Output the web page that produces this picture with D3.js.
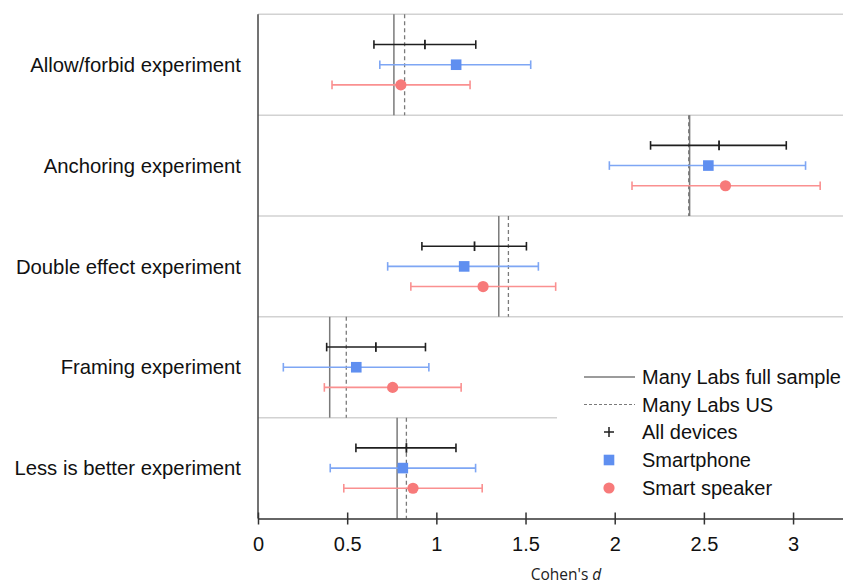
<!DOCTYPE html>
<html>
<head>
<meta charset="utf-8">
<script src="https://cdnjs.cloudflare.com/ajax/libs/d3/7.8.5/d3.min.js"></script>
<style>
  body { margin: 0; background: #fff; }
  text { font-family: "Liberation Sans", Arial, Helvetica, sans-serif; }
</style>
</head>
<body>
<div id="chart"></div>
<script>
// Experiments (rows, top to bottom)
var categories = ["Allow/forbid experiment", "Anchoring experiment", "Double effect experiment",
    "Framing experiment", "Less is better experiment"];

// Many Labs reference effect sizes
var fullSample = [0.762, 2.42, 1.350, 0.402, 0.780];
var usSample = [0.822, 2.415, 1.404, 0.495, 0.832];

// Estimates and confidence intervals per device group
var allEst = [0.936, 2.585, 1.214, 0.661, 0.832];
var allLow = [0.650, 2.201, 0.919, 0.385, 0.549];
var allHigh = [1.221, 2.962, 1.505, 0.939, 1.110];

var phoneEst = [1.111, 2.525, 1.156, 0.551, 0.812];
var phoneLow = [0.683, 1.970, 0.727, 0.142, 0.405];
var phoneHigh = [1.529, 3.070, 1.572, 0.958, 1.220];

var speakerEst = [0.801, 2.621, 1.262, 0.755, 0.869];
var speakerLow = [0.415, 2.097, 0.857, 0.372, 0.481];
var speakerHigh = [1.189, 3.152, 1.669, 1.139, 1.257];

var xTicks = [0, 0.5, 1, 1.5, 2, 2.5, 3];

// Chart area size
var svgWidth = 843;
var svgHeight = 585;
var plotLeft = 258, plotRight = 843, plotTop = 14.3, plotBottom = 518.5;

var svg = d3.select("#chart")
    .append("svg")
    .attr("width", svgWidth)
    .attr("height", svgHeight);

// Scales
var xScale = d3.scaleLinear()
    .domain([0, 3.28])
    .range([plotLeft, plotRight]);

var yBand = d3.scaleBand()
    .domain(categories)
    .range([plotTop, plotBottom]);

var bw = yBand.bandwidth();

// Series definitions (offset inside each row)
var series = [
    { name: "All devices", est: allEst, low: allLow, high: allHigh, offset: 0.30, bar: "#1f1f1f", mark: "#1f1f1f", shape: "plus" },
    { name: "Smartphone", est: phoneEst, low: phoneLow, high: phoneHigh, offset: 0.50, bar: "#7ea6f4", mark: "#5f8ff0", shape: "square" },
    { name: "Smart speaker", est: speakerEst, low: speakerLow, high: speakerHigh, offset: 0.70, bar: "#fa9090", mark: "#f77a7a", shape: "circle" }
];

// Row separators
svg.selectAll(".sep")
    .data(d3.range(categories.length))
    .enter()
    .append("line")
    .attr("x1", plotLeft)
    .attr("x2", plotRight)
    .attr("y1", i => yBand(categories[i]))
    .attr("y2", i => yBand(categories[i]))
    .attr("stroke", "#d2d2d2")
    .attr("stroke-width", 1.5);

// Reference lines per row
categories.forEach(function (cat, i) {
    var y0 = yBand(cat), y1 = y0 + bw;
    svg.append("line")
        .attr("x1", xScale(fullSample[i])).attr("x2", xScale(fullSample[i]))
        .attr("y1", y0).attr("y2", y1)
        .attr("stroke", "#7a7a7a")
        .attr("stroke-width", 1.5);
    svg.append("line")
        .attr("x1", xScale(usSample[i])).attr("x2", xScale(usSample[i]))
        .attr("y1", y0).attr("y2", y1)
        .attr("stroke", "#7a7a7a")
        .attr("stroke-width", 1.3)
        .attr("stroke-dasharray", "4,3");
});

// Error bars and markers
var cap = 4.3;
series.forEach(function (s) {
    categories.forEach(function (cat, i) {
        var y = yBand(cat) + bw * s.offset;
        var g = svg.append("g");
        g.append("line")
            .attr("x1", xScale(s.low[i])).attr("x2", xScale(s.high[i]))
            .attr("y1", y).attr("y2", y)
            .attr("stroke", s.bar).attr("stroke-width", 1.6);
        [s.low[i], s.high[i]].forEach(function (v) {
            g.append("line")
                .attr("x1", xScale(v)).attr("x2", xScale(v))
                .attr("y1", y - cap).attr("y2", y + cap)
                .attr("stroke", s.bar).attr("stroke-width", 1.6);
        });
        var cx = xScale(s.est[i]);
        if (s.shape === "plus") {
            g.append("line")
                .attr("x1", cx).attr("x2", cx)
                .attr("y1", y - cap - 0.5).attr("y2", y + cap + 0.5)
                .attr("stroke", s.mark).attr("stroke-width", 1.8);
        } else if (s.shape === "square") {
            g.append("rect")
                .attr("x", cx - 5.3).attr("y", y - 5.3)
                .attr("width", 10.6).attr("height", 10.6)
                .attr("fill", s.mark);
        } else {
            g.append("circle")
                .attr("cx", cx).attr("cy", y).attr("r", 5.6)
                .attr("fill", s.mark);
        }
    });
});

// Left axis line
svg.append("line")
    .attr("x1", plotLeft).attr("x2", plotLeft)
    .attr("y1", plotTop).attr("y2", plotBottom)
    .attr("stroke", "#444")
    .attr("stroke-width", 1.5);

// Category labels
svg.selectAll(".cat")
    .data(categories)
    .enter()
    .append("text")
    .attr("x", 241)
    .attr("y", d => yBand(d) + bw / 2)
    .attr("dy", "0.35em")
    .attr("text-anchor", "end")
    .attr("font-size", "20.3px")
    .attr("fill", "#111")
    .text(d => d);

// Bottom axis with cross ticks
var bottomAxis = d3.axisBottom(xScale)
    .tickValues(xTicks)
    .tickFormat(d3.format("~g"))
    .tickSizeOuter(0);

var axisG = svg.append("g")
    .attr("transform", `translate(0, ${plotBottom})`)
    .call(bottomAxis);

axisG.select(".domain")
    .attr("stroke", "#333")
    .attr("stroke-width", 1.5);
axisG.selectAll(".tick line")
    .attr("y1", -6).attr("y2", 6)
    .attr("stroke", "#333")
    .attr("stroke-width", 1.5);
axisG.selectAll(".tick text")
    .attr("y", 18)
    .attr("font-size", "20px")
    .attr("font-family", "Liberation Sans, Arial, sans-serif")
    .attr("fill", "#111");

// x-axis title
var title = svg.append("text")
    .attr("x", 566)
    .attr("y", 580)
    .attr("text-anchor", "middle")
    .style("font-family", "'Open Sans', sans-serif")
    .attr("font-size", "15.5px")
    .attr("fill", "#222");
title.append("tspan").text("Cohen's ");
title.append("tspan").attr("font-style", "italic").text("d");

// Legend (white box hides the separator behind it)
var legend = svg.append("g");
legend.append("rect")
    .attr("x", 557).attr("y", 358)
    .attr("width", 290).attr("height", 146)
    .attr("fill", "#fff");

var legendItems = ["Many Labs full sample", "Many Labs US"].concat(series.map(s => s.name));
var legendY = [377, 404.5, 432, 460, 488];
var lx = 609;

legend.append("line")
    .attr("x1", 584).attr("x2", 635)
    .attr("y1", legendY[0]).attr("y2", legendY[0])
    .attr("stroke", "#7a7a7a").attr("stroke-width", 1.5);
legend.append("line")
    .attr("x1", 584).attr("x2", 635)
    .attr("y1", legendY[1]).attr("y2", legendY[1])
    .attr("stroke", "#7a7a7a").attr("stroke-width", 1.1)
    .attr("stroke-dasharray", "3,2");
legend.append("path")
    .attr("d", `M${lx - 5},${legendY[2]}H${lx + 5}M${lx},${legendY[2] - 5}V${legendY[2] + 5}`)
    .attr("stroke", "#1f1f1f").attr("stroke-width", 1.5);
legend.append("rect")
    .attr("x", lx - 5.3).attr("y", legendY[3] - 5.3)
    .attr("width", 10.6).attr("height", 10.6)
    .attr("fill", series[1].mark);
legend.append("circle")
    .attr("cx", lx).attr("cy", legendY[4]).attr("r", 5.6)
    .attr("fill", series[2].mark);

legend.selectAll(".ltext")
    .data(legendItems)
    .enter()
    .append("text")
    .attr("x", 642)
    .attr("y", (d, i) => legendY[i])
    .attr("dy", "0.35em")
    .attr("font-size", "20px")
    .attr("fill", "#111")
    .text(d => d);
</script>
</body>
</html>
